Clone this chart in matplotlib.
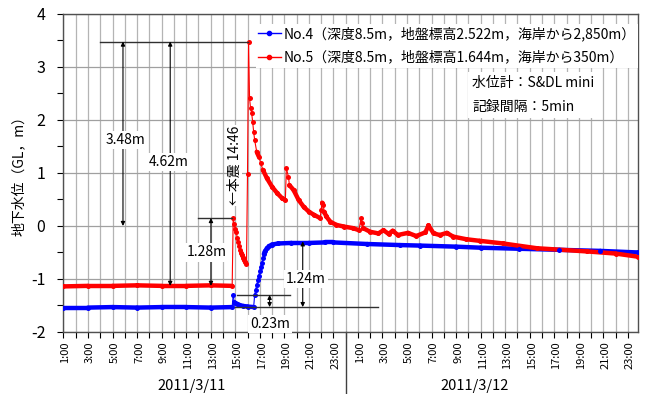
import numpy as np
import pandas as pd
import matplotlib
matplotlib.use("Agg")
import matplotlib.pyplot as plt
import matplotlib.transforms as mtransforms
from matplotlib.collections import LineCollection
from matplotlib.lines import Line2D

plt.rcParams['font.family'] = ['Noto Sans CJK JP', 'DejaVu Sans']
plt.rcParams['axes.unicode_minus'] = False

# No.4 well (blue)
no4_time = ["3/11 1:00", "3/11 3:00", "3/11 5:00", "3/11 7:00", "3/11 9:00", "3/11 11:00",
            "3/11 13:00", "3/11 14:45", "3/11 14:50", "3/11 14:55", "3/11 15:00", "3/11 15:10",
            "3/11 15:20", "3/11 15:40", "3/11 16:00", "3/11 16:30", "3/11 16:35", "3/11 16:40",
            "3/11 16:45", "3/11 16:50", "3/11 16:55", "3/11 17:00", "3/11 17:05", "3/11 17:10",
            "3/11 17:15", "3/11 17:20", "3/11 17:25", "3/11 17:35", "3/11 17:45", "3/11 18:00",
            "3/11 18:30", "3/11 19:35", "3/11 21:00", "3/11 22:20", "3/11 23:00", "3/12 1:45",
            "3/12 4:25", "3/12 6:05", "3/12 9:00", "3/12 11:00", "3/12 14:10", "3/12 17:25",
            "3/12 20:45", "3/12 23:50"]
no4_level = [-1.54, -1.54, -1.53, -1.54, -1.53, -1.53,
             -1.54, -1.53, -1.30, -1.44, -1.46, -1.47,
             -1.49, -1.51, -1.52, -1.53, -1.30, -1.20,
             -1.12, -1.02, -0.94, -0.85, -0.77, -0.69,
             -0.60, -0.53, -0.48, -0.42, -0.38, -0.35,
             -0.33, -0.32, -0.32, -0.31, -0.31, -0.34,
             -0.36, -0.37, -0.39, -0.41, -0.43, -0.45,
             -0.47, -0.50]

# No.5 well (red)
no5_time = ["3/11 1:00", "3/11 3:00", "3/11 5:00", "3/11 7:00", "3/11 9:00", "3/11 11:00",
            "3/11 13:00", "3/11 14:45", "3/11 14:50", "3/11 14:55", "3/11 15:00", "3/11 15:05",
            "3/11 15:10", "3/11 15:15", "3/11 15:20", "3/11 15:25", "3/11 15:30", "3/11 15:35",
            "3/11 15:40", "3/11 15:45", "3/11 15:50", "3/11 15:55", "3/11 16:00", "3/11 16:05",
            "3/11 16:10", "3/11 16:15", "3/11 16:20", "3/11 16:25", "3/11 16:30", "3/11 16:35",
            "3/11 16:45", "3/11 16:55", "3/11 17:05", "3/11 17:15", "3/11 17:35", "3/11 18:00",
            "3/11 18:25", "3/11 18:50", "3/11 19:05", "3/11 19:10", "3/11 19:20", "3/11 19:25",
            "3/11 19:45", "3/11 20:10", "3/11 20:35", "3/11 21:00", "3/11 21:25", "3/11 21:55",
            "3/11 22:00", "3/11 22:05", "3/11 22:10", "3/11 22:15", "3/11 22:25", "3/11 22:45",
            "3/11 23:15", "3/11 23:50", "3/12 0:35", "3/12 1:05", "3/12 1:15", "3/12 1:20",
            "3/12 1:25", "3/12 2:00", "3/12 2:40", "3/12 3:05", "3/12 3:30", "3/12 3:50",
            "3/12 4:15", "3/12 5:05", "3/12 5:45", "3/12 6:30", "3/12 6:45", "3/12 7:10",
            "3/12 7:40", "3/12 8:15", "3/12 8:45", "3/12 9:50", "3/12 10:55", "3/12 12:50",
            "3/12 15:35", "3/12 19:40", "3/12 22:00", "3/12 23:50"]
no5_level = [-1.14, -1.13, -1.13, -1.12, -1.13, -1.13,
             -1.12, -1.13, 0.15, 0.03, -0.05, -0.12,
             -0.22, -0.30, -0.38, -0.45, -0.51, -0.55,
             -0.60, -0.64, -0.68, -0.71, 0.99, 3.48,
             2.41, 2.22, 2.14, 1.97, 1.78, 1.62,
             1.40, 1.31, 1.18, 1.06, 0.90, 0.74,
             0.62, 0.52, 0.49, 1.09, 0.93, 0.77,
             0.68, 0.49, 0.36, 0.27, 0.21, 0.15,
             0.30, 0.44, 0.40, 0.27, 0.18, 0.08,
             0.02, -0.01, -0.04, -0.08, 0.15, 0.05,
             -0.04, -0.11, -0.14, -0.08, -0.15, -0.09,
             -0.17, -0.13, -0.19, -0.12, 0.01, -0.14,
             -0.17, -0.13, -0.20, -0.25, -0.28, -0.33,
             -0.42, -0.48, -0.52, -0.58]

hour_labels = ["1:00", "3:00", "5:00", "7:00", "9:00", "11:00", "13:00", "15:00",
               "17:00", "19:00", "21:00", "23:00",
               "1:00", "3:00", "5:00", "7:00", "9:00", "11:00", "13:00", "15:00",
               "17:00", "19:00", "21:00", "23:00"]
date_labels = ["2011/3/11", "2011/3/12"]
legend_labels = ["No.4（深度8.5m，地盤標高2.522m，海岸から2,850m）",
                 "No.5（深度8.5m，地盤標高1.644m，海岸から350m）"]


def to_hours(stamps):
    t = pd.to_datetime(["2011/" + s for s in stamps], format="%Y/%m/%d %H:%M")
    return ((t - pd.Timestamp("2011-03-11")) / pd.Timedelta(hours=1)).to_numpy()


def draw_series(ax, t, v, color):
    v = np.asarray(v)
    pts = np.column_stack([t, v])
    segs = np.stack([pts[:-1], pts[1:]], axis=1)
    # steep jumps get a thin line, slow parts a thick band of overlapping points
    slope = np.abs(np.diff(v) * 53) / np.maximum(np.diff(t) * 12.27, 1e-6)
    widths = np.where(slope > 3, 0.8, 3.2)
    ax.add_collection(LineCollection(segs, colors=color, linewidths=widths,
                                     capstyle='round', zorder=3))
    ax.plot(t, v, 'o', color=color, ms=3.6, mew=0, zorder=4)


fig = plt.figure(figsize=(6.49, 3.94), dpi=100)
ax = fig.add_axes([0.0978, 0.1574, 0.8857, 0.8071])

t4 = to_hours(no4_time)
t5 = to_hours(no5_time)
draw_series(ax, t4, no4_level, '#0000ff')
draw_series(ax, t5, no5_level, '#ff0000')

ax.set_xlim(1.0, 47.85)
ax.set_ylim(-2, 4)

# axes, ticks and grid
ax.set_yticks(range(-2, 5))
ax.set_yticks(np.arange(-2, 4.01, 0.5), minor=True)
ax.set_xticks(np.arange(1, 48, 2))
ax.set_xticks(np.arange(2, 48, 2), minor=True)
ax.set_xticklabels(hour_labels, rotation=90, fontsize=8)
ax.tick_params(axis='y', labelsize=11.5, length=4, width=0.8, pad=9)
ax.tick_params(axis='y', which='minor', length=4, width=0.8)
ax.tick_params(axis='x', which='both', length=4, width=0.8, pad=3)
ax.tick_params(axis='x', which='minor', labelbottom=False)
shift = mtransforms.ScaledTranslation(2 / 100, 0, fig.dpi_scale_trans)
for lab in ax.get_xticklabels():
    lab.set_transform(lab.get_transform() + shift)

ax.grid(axis='x', which='both', color='#b4b4b4', lw=0.9)
ax.grid(axis='y', which='major', color='#a0a0a0', lw=0.9)
ax.set_axisbelow(True)
for side in ['left', 'bottom', 'right', 'top']:
    ax.spines[side].set_color('#505050')
    ax.spines[side].set_linewidth(1.0)

ax.set_ylabel('地下水位（GL，m）', fontsize=10, labelpad=4)

# date row under the hour labels
ax.text(11.47, -0.169, date_labels[0], transform=ax.get_xaxis_transform(),
        ha='center', va='center', fontsize=10.5)
ax.text(34.54, -0.169, date_labels[1], transform=ax.get_xaxis_transform(),
        ha='center', va='center', fontsize=10.5)
ax.plot([24, 24], [0, -0.2], transform=ax.get_xaxis_transform(),
        color='#404040', lw=1, clip_on=False)

# dimension lines and arrows
line_kw = dict(color='#303030', lw=1.0, zorder=5)
arrow_kw = dict(arrowstyle='<|-|>', color='black', lw=0.8, mutation_scale=6,
                shrinkA=0, shrinkB=0)
box = dict(fc='white', ec='none', pad=1.5)

ax.plot([3.97, 16.0], [3.48, 3.48], **line_kw)
ax.annotate('', xy=(5.85, 3.48), xytext=(5.85, 0.0), arrowprops=arrow_kw, zorder=5)
ax.text(6.05, 1.63, '3.48m', ha='center', va='center', fontsize=10, bbox=box, zorder=6)
ax.annotate('', xy=(9.7, 3.48), xytext=(9.7, -1.13), arrowprops=arrow_kw, zorder=5)
ax.text(9.6, 1.21, '4.62m', ha='center', va='center', fontsize=10, bbox=box, zorder=6)

ax.plot([11.96, 14.75], [0.15, 0.15], **line_kw)
ax.annotate('', xy=(13.02, 0.15), xytext=(13.02, -1.13), arrowprops=arrow_kw, zorder=5)
ax.text(12.7, -0.5, '1.28m', ha='center', va='center', fontsize=10, bbox=box, zorder=6)

ax.text(14.95, 1.14, '←本震 14:46', rotation=90, ha='center', va='center',
        fontsize=10, bbox=dict(fc='white', ec='none', pad=0.5), zorder=6)

ax.plot([15.14, 19.46], [-1.30, -1.30], **line_kw)
ax.annotate('', xy=(17.8, -1.30), xytext=(17.8, -1.53), arrowprops=arrow_kw, zorder=5)
ax.text(17.83, -1.85, '0.23m', ha='center', va='center', fontsize=10, bbox=box, zorder=6)

ax.plot([14.98, 26.63], [-1.53, -1.53], **line_kw)
ax.annotate('', xy=(20.5, -0.29), xytext=(20.5, -1.53), arrowprops=arrow_kw, zorder=5)
ax.text(20.76, -1.0, '1.24m', ha='center', va='center', fontsize=10, bbox=box, zorder=6)

ax.text(34.3, 2.47, '水位計：S&DL mini\n記録間隔：5min', ha='left', va='center',
        fontsize=10, linespacing=1.85, bbox=dict(fc='white', ec='none', pad=3), zorder=6)

handles = [Line2D([], [], color='#0000ff', marker='o', ms=3, lw=1),
           Line2D([], [], color='#ff0000', marker='o', ms=3, lw=1)]
leg = ax.legend(handles, legend_labels, loc='upper right', bbox_to_anchor=(1.0, 0.97),
                fontsize=10, frameon=True, fancybox=False, framealpha=1,
                edgecolor='none', facecolor='white', borderaxespad=0, borderpad=0.2,
                handlelength=1.6, handletextpad=0.2, labelspacing=0.7)
leg.set_zorder(7)

fig.savefig('out.png', dpi=100)
